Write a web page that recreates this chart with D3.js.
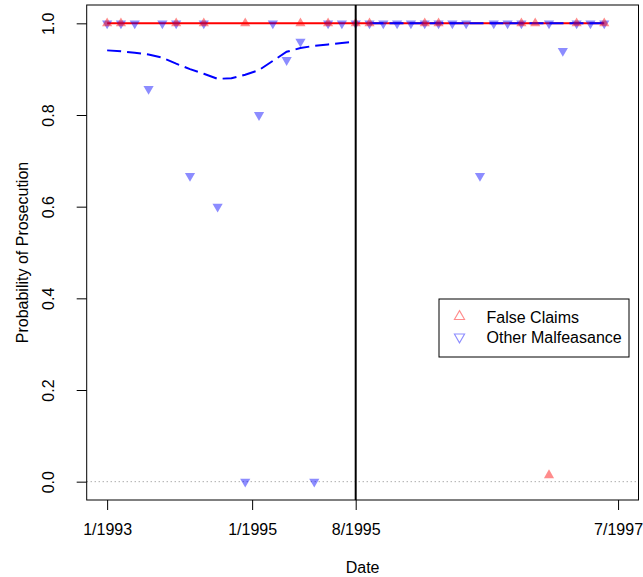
<!DOCTYPE html>
<html>
<head>
<meta charset="utf-8">
<script src="https://cdn.jsdelivr.net/npm/d3@7/dist/d3.min.js"></script>
<style>
  html, body { margin: 0; padding: 0; background: #fff; }
  svg { display: block; font-family: "Liberation Sans", Arial, Helvetica, sans-serif; }
</style>
</head>
<body>
<svg id="chart" width="643" height="577"></svg>
<script>
// Observation periods (index along the time axis) and prosecution rates
const falseClaimsPeriod = [0, 1, 5, 7, 10, 14, 16, 18, 19, 23, 24, 30, 31, 32, 34, 36];
const falseClaimsProb   = [1, 1, 1, 1, 1, 1, 1, 1, 1, 1, 1, 1, 1, 0.014, 1, 1];

const otherPeriod = [0, 1, 2, 3, 4, 5, 6, 7, 8, 10, 11, 12, 13, 14, 15, 16, 17, 18,
                     19, 20, 21, 22, 23, 24, 25, 26, 27, 28, 29, 30, 32, 33, 34, 35, 36];
const otherProb   = [1, 1, 1, 0.857, 1, 1, 0.667, 1, 0.6, 0, 0.8, 1, 0.92, 0.96, 0, 1, 1, 1,
                     1, 1, 1, 1, 1, 1, 1, 1, 0.667, 1, 1, 1, 1, 0.94, 1, 1, 1];

// Smoothed trends
const falseClaimsTrendPeriod = [0, 36];
const falseClaimsTrend       = [1, 1];
const otherTrendPrePeriod = [0, 1, 2, 3, 4, 5, 6, 7, 8, 9, 10, 11, 12, 13, 14, 15, 16, 17, 18];
const otherTrendPre       = [0.941, 0.939, 0.936, 0.932, 0.925, 0.912, 0.900, 0.890, 0.879, 0.880,
                             0.888, 0.898, 0.918, 0.938, 0.946, 0.951, 0.954, 0.957, 0.960];
const otherTrendPostPeriod = [19, 36];
const otherTrendPost       = [1, 1];

// Policy change marker and axis ticks
const breakPeriod = 18;
const xTickPeriods = [0, 10.5, 18, 37];
const xTickLabels  = ["1/1993", "1/1995", "8/1995", "7/1997"];
const yTicks       = [0, 0.2, 0.4, 0.6, 0.8, 1.0];

const seriesNames = ["False Claims", "Other Malfeasance"];

const svg = d3.select("#chart");
const plot = { left: 86.7, right: 638.5, top: 5, bottom: 500 };
const FONT = 16;

const x = d3.scaleLinear().domain([-1.48, 38.48]).range([plot.left, plot.right]);
const y = d3.scaleLinear().domain([-0.04, 1.04]).range([plot.bottom, plot.top]);

const redFill  = "rgba(255,0,0,0.45)";
const blueFill = "rgba(0,0,255,0.45)";

// Reference line at zero
svg.append("line")
  .attr("x1", plot.left).attr("x2", plot.right)
  .attr("y1", y(0)).attr("y2", y(0))
  .attr("stroke", "#888").attr("stroke-width", 1)
  .attr("stroke-dasharray", "1,3");

// Trend lines
const line = d3.line().x(d => x(d[0])).y(d => y(d[1]));

svg.append("path")
  .datum(d3.zip(falseClaimsTrendPeriod, falseClaimsTrend))
  .attr("d", line).attr("fill", "none")
  .attr("stroke", "#ff0000").attr("stroke-width", 2);

[[otherTrendPrePeriod, otherTrendPre], [otherTrendPostPeriod, otherTrendPost]].forEach(([p, v]) => {
  svg.append("path")
    .datum(d3.zip(p, v))
    .attr("d", line).attr("fill", "none")
    .attr("stroke", "#0000ff").attr("stroke-width", 2)
    .attr("stroke-dasharray", "14,6");
});

// Points
const triSize = 45;
const tri = d3.symbol(d3.symbolTriangle, triSize);

svg.append("g").selectAll("path")
  .data(d3.zip(otherPeriod, otherProb))
  .join("path")
  .attr("d", tri)
  .attr("transform", d => `translate(${x(d[0])},${y(d[1])}) rotate(180)`)
  .attr("fill", blueFill);

svg.append("g").selectAll("path")
  .data(d3.zip(falseClaimsPeriod, falseClaimsProb))
  .join("path")
  .attr("d", tri)
  .attr("transform", d => `translate(${x(d[0])},${y(d[1])})`)
  .attr("fill", redFill);

// Vertical break line
svg.append("line")
  .attr("x1", x(breakPeriod)).attr("x2", x(breakPeriod))
  .attr("y1", plot.top).attr("y2", plot.bottom)
  .attr("stroke", "#000").attr("stroke-width", 2);

// Plot frame
svg.append("rect")
  .attr("x", plot.left).attr("y", plot.top)
  .attr("width", plot.right - plot.left).attr("height", plot.bottom - plot.top)
  .attr("fill", "none").attr("stroke", "#000").attr("stroke-width", 1);

// X axis
const xAxis = d3.axisBottom(x)
  .tickValues(xTickPeriods)
  .tickFormat((d, i) => xTickLabels[i])
  .tickSize(10).tickSizeOuter(0);
const gx = svg.append("g").attr("transform", `translate(0,${plot.bottom})`).call(xAxis);
gx.select(".domain").remove();
gx.selectAll("line").attr("stroke", "#000");
gx.selectAll("text")
  .attr("y", 35).attr("dy", 0)
  .attr("font-size", FONT).attr("font-family", null).attr("fill", "#000");

// Y axis
const yAxis = d3.axisLeft(y)
  .tickValues(yTicks)
  .tickFormat(d3.format(".1f"))
  .tickSize(10).tickSizeOuter(0);
const gy = svg.append("g").attr("transform", `translate(${plot.left},0)`).call(yAxis);
gy.select(".domain").remove();
gy.selectAll("line").attr("stroke", "#000");
gy.selectAll("text")
  .attr("transform", "rotate(-90)")
  .attr("x", 0).attr("y", -33).attr("dy", 0)
  .attr("text-anchor", "middle")
  .attr("font-size", FONT).attr("font-family", null).attr("fill", "#000");

// Axis titles
svg.append("text")
  .attr("x", (plot.left + plot.right) / 2).attr("y", 573)
  .attr("text-anchor", "middle").attr("font-size", FONT)
  .text("Date");

svg.append("text")
  .attr("transform", `translate(28,${(plot.top + plot.bottom) / 2}) rotate(-90)`)
  .attr("text-anchor", "middle").attr("font-size", FONT)
  .text("Probability of Prosecution");

// Legend
const legend = svg.append("g").attr("transform", "translate(439,299)");
legend.append("rect")
  .attr("width", 190).attr("height", 58)
  .attr("fill", "#fff").attr("stroke", "#000").attr("stroke-width", 1);

const legendItems = [
  { name: seriesNames[0], color: "rgba(255,0,0,0.45)", rot: 0, cy: 17.5 },
  { name: seriesNames[1], color: "rgba(0,0,255,0.45)", rot: 180, cy: 38 }
];
legendItems.forEach(item => {
  legend.append("path")
    .attr("d", tri)
    .attr("transform", `translate(20.5,${item.cy}) rotate(${item.rot})`)
    .attr("fill", "none").attr("stroke", item.color).attr("stroke-width", 1.1);
  legend.append("text")
    .attr("x", 47.5).attr("y", item.cy + 6)
    .attr("font-size", FONT)
    .text(item.name);
});
</script>
</body>
</html>
